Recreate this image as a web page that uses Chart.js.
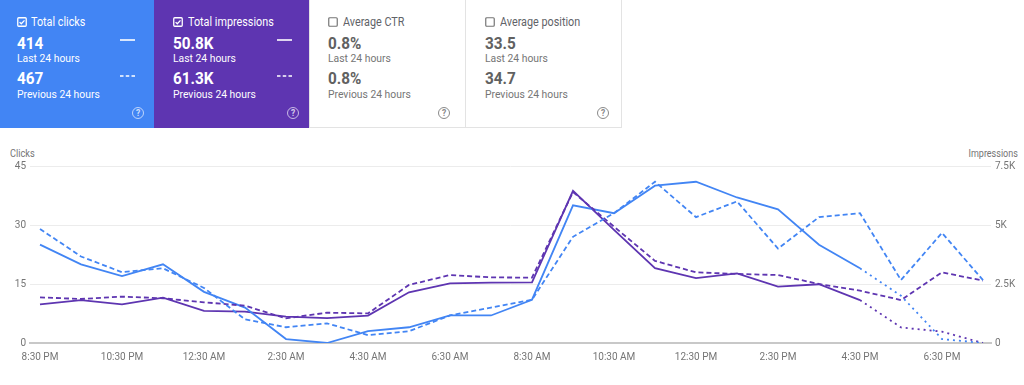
<!DOCTYPE html>
<html>
<head>
<meta charset="utf-8">
<script src="https://cdn.jsdelivr.net/npm/chart.js@4.4.1/dist/chart.umd.min.js"></script>
<style>
  html, body { margin:0; padding:0; background:#fff; }
  body { width:1024px; height:385px; position:relative; overflow:hidden; font-family: Roboto, "Noto Sans", Arial, sans-serif; }
  .card { position:absolute; top:0; height:128px; box-sizing:border-box; }
  .t { position:absolute; white-space:nowrap; line-height:1; transform:scaleX(0.9); transform-origin:0 0; }
  .ttl { font-size:12px; }
  .val { font-size:17px; font-weight:700; }
  .lbl { font-size:11.5px; }
  .cb { position:absolute; width:10px; height:10px; }
  .help { position:absolute; width:10px; height:10px; border-radius:50%; font-size:8.5px; line-height:10px; text-align:center; font-weight:700; }
  .lg { position:absolute; width:15px; height:2px; }
  #wrap { position:absolute; left:0; top:140px; width:1024px; height:245px; }
  .axt { position:absolute; font-size:10px; line-height:1; color:#757575; white-space:nowrap; }
</style>
</head>
<body>
<div class="card" style="left:0;width:154px;background:#4285f4;"></div>
<div class="card" style="left:154px;width:155px;background:#5e35b1;"></div>
<div class="card" style="left:309px;width:157px;background:#fff;border:1px solid #e3e3e3;border-top:none;"></div>
<div class="card" style="left:465px;width:157px;background:#fff;border:1px solid #e3e3e3;border-top:none;"></div>

<!-- card 1 -->
<svg class="cb" style="left:17px;top:17px" viewBox="0 0 10 10"><rect x="0.75" y="0.75" width="8.5" height="8.5" rx="1" fill="none" stroke="#fff" stroke-width="1.3"/><path d="M2.6 5.1 L4.3 6.8 L7.5 3.4" fill="none" stroke="#fff" stroke-width="1.3"/></svg>
<div class="t ttl" style="left:31px;top:16px;color:#fff">Total clicks</div>
<div class="t val" style="left:17px;top:35px;color:#fff">414</div>
<div class="t lbl" style="left:17px;top:53px;color:#fff">Last 24 hours</div>
<div class="t val" style="left:17px;top:70px;color:#fff">467</div>
<div class="t lbl" style="left:17px;top:89px;color:#fff">Previous 24 hours</div>
<svg class="lg" style="left:120px;top:39px" viewBox="0 0 15 2"><line x1="0" y1="1" x2="15" y2="1" stroke="#fff" stroke-width="1.6"/></svg>
<svg class="lg" style="left:120px;top:75px" viewBox="0 0 15 2"><line x1="0" y1="1" x2="15" y2="1" stroke="#fff" stroke-width="1.6" stroke-dasharray="3.5 2.25"/></svg>
<div class="help" style="left:132px;top:107px;border:1px solid rgba(255,255,255,0.65);color:rgba(255,255,255,0.75)">?</div>

<!-- card 2 -->
<svg class="cb" style="left:173px;top:17px" viewBox="0 0 10 10"><rect x="0.75" y="0.75" width="8.5" height="8.5" rx="1" fill="none" stroke="#fff" stroke-width="1.3"/><path d="M2.6 5.1 L4.3 6.8 L7.5 3.4" fill="none" stroke="#fff" stroke-width="1.3"/></svg>
<div class="t ttl" style="left:188px;top:16px;color:#fff">Total impressions</div>
<div class="t val" style="left:173px;top:35px;color:#fff">50.8K</div>
<div class="t lbl" style="left:173px;top:53px;color:#fff">Last 24 hours</div>
<div class="t val" style="left:173px;top:70px;color:#fff">61.3K</div>
<div class="t lbl" style="left:173px;top:89px;color:#fff">Previous 24 hours</div>
<svg class="lg" style="left:277px;top:39px" viewBox="0 0 15 2"><line x1="0" y1="1" x2="15" y2="1" stroke="#fff" stroke-width="1.6"/></svg>
<svg class="lg" style="left:277px;top:75px" viewBox="0 0 15 2"><line x1="0" y1="1" x2="15" y2="1" stroke="#fff" stroke-width="1.6" stroke-dasharray="3.5 2.25"/></svg>
<div class="help" style="left:287px;top:107px;border:1px solid rgba(255,255,255,0.65);color:rgba(255,255,255,0.75)">?</div>

<!-- card 3 -->
<svg class="cb" style="left:328px;top:17px" viewBox="0 0 10 10"><rect x="0.75" y="0.75" width="8.5" height="8.5" rx="1" fill="none" stroke="#757575" stroke-width="1.2"/></svg>
<div class="t ttl" style="left:343px;top:16px;color:#5f6368">Average CTR</div>
<div class="t val" style="left:328px;top:35px;color:#616161">0.8%</div>
<div class="t lbl" style="left:328px;top:53px;color:#757575">Last 24 hours</div>
<div class="t val" style="left:328px;top:70px;color:#616161">0.8%</div>
<div class="t lbl" style="left:328px;top:89px;color:#757575">Previous 24 hours</div>
<div class="help" style="left:438px;top:107px;border:1px solid #8a8a8a;color:#8a8a8a">?</div>

<!-- card 4 -->
<svg class="cb" style="left:485px;top:17px" viewBox="0 0 10 10"><rect x="0.75" y="0.75" width="8.5" height="8.5" rx="1" fill="none" stroke="#757575" stroke-width="1.2"/></svg>
<div class="t ttl" style="left:500px;top:16px;color:#5f6368">Average position</div>
<div class="t val" style="left:485px;top:35px;color:#616161">33.5</div>
<div class="t lbl" style="left:485px;top:53px;color:#757575">Last 24 hours</div>
<div class="t val" style="left:485px;top:70px;color:#616161">34.7</div>
<div class="t lbl" style="left:485px;top:89px;color:#757575">Previous 24 hours</div>
<div class="help" style="left:597px;top:107px;border:1px solid #8a8a8a;color:#8a8a8a">?</div>

<div class="axt" style="left:10px;top:149px;transform:scaleX(0.92);transform-origin:0 0">Clicks</div>
<div class="axt" style="right:6px;top:149px;transform:scaleX(0.9);transform-origin:100% 0">Impressions</div>

<div id="wrap"><canvas id="c" width="1024" height="245"></canvas></div>

<script>
const timeLabels = ['8:30 PM','9:30 PM','10:30 PM','11:30 PM','12:30 AM','1:30 AM','2:30 AM','3:30 AM','4:30 AM','5:30 AM','6:30 AM','7:30 AM','8:30 AM','9:30 AM','10:30 AM','11:30 AM','12:30 PM','1:30 PM','2:30 PM','3:30 PM','4:30 PM','5:30 PM','6:30 PM','7:30 PM'];
const clicksLast = [25,20,17,20,13,9,1,0,3,4,7,7,11,35,33,40,41,37,34,25,19,12,1,0];
const clicksPrev = [29,22,18,19,14,6,4,5,2,3,7,9,11,27,33,41,32,36,24,32,33,16,28,16];
const imprLast = [1640,1820,1640,1920,1360,1330,1120,1050,1160,2150,2530,2560,2570,6450,4790,3170,2750,2950,2390,2490,1820,660,480,0];
const imprPrev = [1935,1865,1965,1895,1725,1580,1045,1285,1255,2460,2880,2780,2770,6400,4930,3480,2995,2925,2880,2500,2215,1820,2995,2640];
const clickTicks = [0,15,30,45];
const imprTicks = [0,2500,5000,7500];
const imprTickLabels = ['0','2.5K','5K','7.5K'];
const xTickIdx = [0,2,4,6,8,10,12,14,16,18,20,22];
const incompleteFrom = 20;

const BLUE = '#4285f4', PURPLE = '#5e35b1';
const pts = arr => arr.map((v, i) => ({ x: i, y: v }));
const dottedTail = { borderDash: ctx => ctx.p0DataIndex >= incompleteFrom ? [2, 4] : undefined };

new Chart(document.getElementById('c'), {
  type: 'line',
  data: {
    datasets: [
      { label: 'Clicks (previous)', data: pts(clicksPrev), yAxisID: 'y', borderColor: BLUE, borderWidth: 1.8, borderDash: [5, 3] },
      { label: 'Impressions (previous)', data: pts(imprPrev), yAxisID: 'y2', borderColor: PURPLE, borderWidth: 1.8, borderDash: [5, 3] },
      { label: 'Clicks', data: pts(clicksLast), yAxisID: 'y', borderColor: BLUE, borderWidth: 1.8, segment: dottedTail },
      { label: 'Impressions', data: pts(imprLast), yAxisID: 'y2', borderColor: PURPLE, borderWidth: 1.8, segment: dottedTail }
    ]
  },
  options: {
    responsive: false,
    animation: false,
    events: [],
    layout: { padding: { top: 26, left: 0, right: 0, bottom: 0 } },
    elements: { point: { radius: 0 }, line: { tension: 0, fill: false } },
    plugins: { legend: { display: false }, tooltip: { enabled: false } },
    scales: {
      x: {
        type: 'linear',
        min: -10 / 41,
        max: 23 + 8 / 41,
        afterBuildTicks: s => { s.ticks = xTickIdx.map(v => ({ value: v })); },
        afterFit: s => { s.height = 42; },
        grid: { display: false, drawTicks: false },
        border: { display: true, color: '#c8c8c8', width: 2 },
        ticks: { autoSkip: false, maxRotation: 0, padding: 8, color: '#757575', font: { family: 'Roboto', size: 10 },
                 callback: v => timeLabels[v] }
      },
      y: {
        position: 'left',
        min: 0, max: 45,
        afterBuildTicks: s => { s.ticks = clickTicks.map(v => ({ value: v })); },
        afterFit: s => { s.width = 30; },
        grid: { color: '#ececec', lineWidth: 1, drawTicks: false },
        border: { display: false },
        ticks: { padding: 4, color: '#757575', font: { family: 'Roboto', size: 10 } }
      },
      y2: {
        position: 'right',
        min: 0, max: 7500,
        afterBuildTicks: s => { s.ticks = imprTicks.map(v => ({ value: v })); },
        afterFit: s => { s.width = 33; },
        grid: { display: false, drawTicks: false },
        border: { display: false },
        ticks: { padding: 4, color: '#757575', font: { family: 'Roboto', size: 10 },
                 callback: v => imprTickLabels[imprTicks.indexOf(v)] }
      }
    }
  }
});
</script>
</body>
</html>
